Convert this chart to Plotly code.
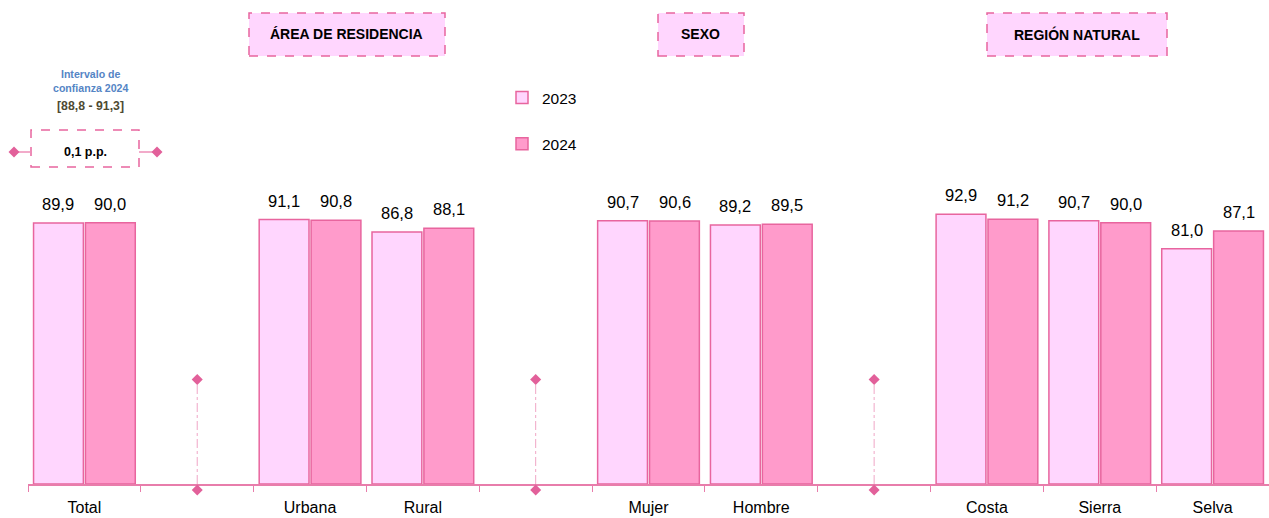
import plotly.graph_objects as go

categories = ["Total", " ", "Urbana", "Rural", "  ", "Mujer", "Hombre", "   ", "Costa", "Sierra", "Selva"]
values_2023 = [89.9, None, 91.1, 86.8, None, 90.7, 89.2, None, 92.9, 90.7, 81.0]
values_2024 = [90.0, None, 90.8, 88.1, None, 90.6, 89.5, None, 91.2, 90.0, 87.1]
separator_cats = [" ", "  ", "   "]
group_titles = ["ÁREA DE RESIDENCIA", "SEXO", "REGIÓN NATURAL"]
ci_title = "Intervalo de<br>confianza 2024"
ci_range = "[88,8 - 91,3]"
ci_diff = "0,1 p.p."

FONT = "Liberation Sans, Arial, sans-serif"
C23 = "#FFD6FE"
C24 = "#FF9BCB"
EDGE = "#E8659E"
AXIS = "#E87DAB"
DIAM = "#E2609A"

W, H = 1269, 518
L, T, B, R = 28, 0, 34, 0
PW, PH = W - L - R, H - T - B
YMAX = 166.7


def px(X):
    return (X - L) / PW


def py(Y):
    return (PH + T - Y) / PH


def fmt(v):
    return f"{v:.1f}".replace(".", ",")


fig = go.Figure()
fig.add_trace(go.Bar(x=categories, y=values_2023, name="2023", marker=dict(color=C23, line=dict(color=EDGE, width=1.5)),
                     legendgroup="a", hoverinfo="skip"))
fig.add_trace(go.Bar(x=categories, y=values_2024, name="2024", marker=dict(color=C24, line=dict(color=EDGE, width=1.5)),
                     legendgroup="b", hoverinfo="skip"))

shapes = []
# separator lines with diamonds
for c in separator_cats:
    fig.add_trace(go.Scatter(x=[c, c], y=[0, 36], mode="lines", line=dict(color="#F0A6C6", width=1, dash="dashdot"),
                             showlegend=False, hoverinfo="skip"))
    fig.add_trace(go.Scatter(x=[c], y=[36], mode="markers", marker=dict(symbol="diamond", size=8.5, color=DIAM),
                             showlegend=False, hoverinfo="skip", cliponaxis=False))
    shapes.append(dict(type="path", xref="x", yref="paper", xsizemode="pixel", ysizemode="pixel",
                       xanchor=categories.index(c), yanchor=0,
                       path="M-5.5,-6 L0,-0.5 L5.5,-6 L0,-11.5 Z", fillcolor=DIAM, line=dict(width=0), layer="above"))

annotations = []
for cat, v23, v24 in zip(categories, values_2023, values_2024):
    for v, xs in ((v23, -26), (v24, 26)):
        if v is None:
            continue
        annotations.append(dict(x=cat, y=v, text=fmt(v), showarrow=False, xshift=xs, yshift=8, yanchor="bottom",
                                xanchor="center", font=dict(family=FONT, size=16.5, color="#000000")))

boxes = [(249, 445), (658, 744), (987, 1167)]
for (x0, x1), title in zip(boxes, group_titles):
    shapes.append(dict(type="rect", xref="paper", yref="paper", x0=px(x0), x1=px(x1), y0=py(56), y1=py(13),
                       fillcolor="#FFD6FE", line=dict(color=EDGE, width=1.5, dash="dash"), layer="above"))
    annotations.append(dict(xref="paper", yref="paper", x=px((x0 + x1) / 2), y=py(34.5), text=f"<b>{title}</b>",
                            showarrow=False, xanchor="center", yanchor="middle",
                            font=dict(family=FONT, size=14, color="#000000")))

# confidence interval block
annotations.append(dict(xref="paper", yref="paper", x=px(90), y=py(81), text=f"<b>{ci_title}</b>", showarrow=False,
                        xanchor="center", yanchor="middle",
                        font=dict(family=FONT, size=10.6, color="#5585C5")))
annotations.append(dict(xref="paper", yref="paper", x=px(90), y=py(106), text=f"<b>{ci_range}</b>", showarrow=False,
                        xanchor="center", yanchor="middle",
                        font=dict(family=FONT, size=12.3, color="#4E4A32")))
shapes.append(dict(type="rect", xref="paper", yref="paper", x0=px(31), x1=px(139), y0=py(167), y1=py(130),
                   fillcolor="white", line=dict(color=EDGE, width=1.5, dash="dash")))
annotations.append(dict(xref="paper", yref="paper", x=px(85), y=py(152), text=f"<b>{ci_diff}</b>", showarrow=False,
                        xanchor="center", yanchor="middle",
                        font=dict(family=FONT, size=12.5, color="#000000")))
for xa, xb in ((14, 31), (139, 157)):
    shapes.append(dict(type="line", xref="paper", yref="paper", x0=px(xa), x1=px(xb), y0=py(152), y1=py(152),
                       line=dict(color="#EE8FB8", width=1.5)))
for xc in (14, 157):
    d = 5.5
    path = (f"M{px(xc - d)},{py(152)} L{px(xc)},{py(152 - d)} L{px(xc + d)},{py(152)} "
            f"L{px(xc)},{py(152 + d)} Z")
    shapes.append(dict(type="path", xref="paper", yref="paper", path=path, fillcolor=DIAM, line=dict(width=0)))

fig.update_layout(
    width=W, height=H,
    margin=dict(l=L, r=R, t=T, b=B, pad=0),
    paper_bgcolor="white", plot_bgcolor="white",
    barmode="group", bargap=0.08, bargroupgap=0.04,
    font=dict(family=FONT, size=16, color="#000000"),
    showlegend=True,
    legend=dict(x=px(502), y=py(81), xanchor="left", yanchor="top", tracegroupgap=23,
                font=dict(family=FONT, size=15.5), bgcolor="rgba(0,0,0,0)", itemwidth=30),
    xaxis=dict(type="category", categoryorder="array", categoryarray=categories, showline=True, linecolor=AXIS,
               linewidth=2, ticks="outside", tickson="boundaries", ticklen=6, tickcolor=AXIS, tickwidth=1,
               ticklabelstandoff=8,
               tickfont=dict(family=FONT, size=16, color="#000000"), showgrid=False, zeroline=False,
               range=[-0.5, len(categories) - 0.5]),
    yaxis=dict(range=[0, YMAX], visible=False, showgrid=False, zeroline=False),
    shapes=shapes,
    annotations=annotations,
)

fig.write_html("out.html", config={"displayModeBar": False}, post_script="document.body.style.margin='0';")
